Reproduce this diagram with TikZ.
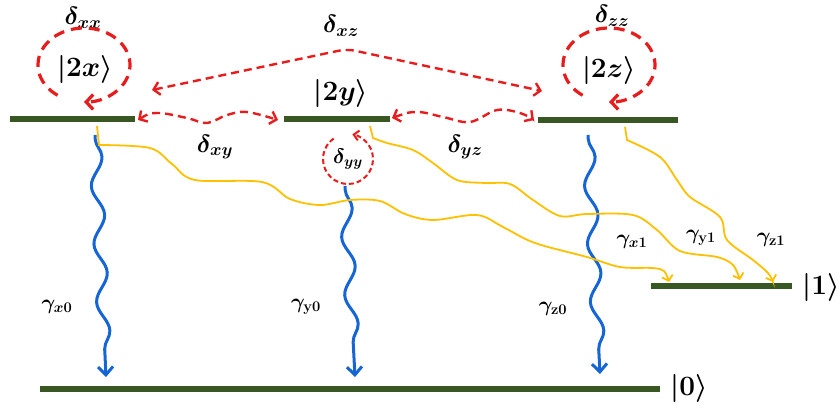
\RequirePackage{fix-cm}
\documentclass[tikz,border=0pt]{standalone}
\usepackage{amsmath}
\usetikzlibrary{arrows.meta,decorations.pathmorphing}
\definecolor{lvlgreen}{RGB}{56,87,35}
\definecolor{dred}{RGB}{232,28,28}
\definecolor{wblue}{RGB}{21,101,212}
\definecolor{wyel}{RGB}{255,192,0}
\begin{document}
\begin{tikzpicture}[x=1pt,y=-1pt,
  lvl/.style={draw=lvlgreen, line width=5.5pt},
  ket/.style={font=\fontsize{28}{32}\selectfont\boldmath, inner sep=0pt},
  dlab/.style={font=\fontsize{25}{29}\selectfont\boldmath, inner sep=0pt},
  glab/.style={font=\fontsize{21}{25}\selectfont\boldmath, inner sep=0pt},
  loopd/.style={draw=dred, line width=3.2pt, dash pattern=on 11pt off 7pt, -{Straight Barb[length=7pt,width=15pt]}},
  loopsm/.style={draw=dred, line width=2pt, dash pattern=on 5pt off 3pt, -{Straight Barb[length=5pt,width=10pt]}},
  cpl/.style={draw=dred, line width=2.4pt, dash pattern=on 8pt off 5pt, {Straight Barb[length=6pt,width=13pt]}-{Straight Barb[length=6pt,width=13pt]}},
  wave/.style={draw=wblue, line width=3pt, decorate, decoration={snake, segment length=58pt, amplitude=6pt, pre length=4pt, post length=22pt}, -{Straight Barb[length=8pt,width=15pt]}},
  yarr/.style={draw=wyel, line width=1.8pt, -{Straight Barb[length=5pt,width=11pt]}}
]
\useasboundingbox (0,0) rectangle (840,407);

% levels
\coordinate (L2xa) at (10,119);  \coordinate (L2xb) at (135,119);
\coordinate (L2ya) at (284,119); \coordinate (L2yb) at (390,119);
\coordinate (L2za) at (538,120); \coordinate (L2zb) at (678,120);
\coordinate (L1a)  at (651,286); \coordinate (L1b)  at (792,286);
\coordinate (L0a)  at (40,389);  \coordinate (L0b)  at (660,389);
\draw[lvl] (L2xa) -- (L2xb);
\draw[lvl] (L2ya) -- (L2yb);
\draw[lvl] (L2za) -- (L2zb);
\draw[lvl] (L1a) -- (L1b);
\draw[lvl] (L0a) -- (L0b);

% state labels
\node[ket] (k2x) at (85,69) {$|2x\rangle$};
\node[ket] (k2y) at (341,93) {$|2y\rangle$};
\node[ket] (k2z) at (609,70) {$|2z\rangle$};
\node[ket] (k1) at (821,287) {$|1\rangle$};
\node[ket] (k0) at (689,388) {$|0\rangle$};

% delta labels
\node[dlab] (dxx) at (83,18) {$\delta_{xx}$};
\node[dlab] (dxz) at (341,26) {$\delta_{xz}$};
\node[dlab] (dzz) at (612,16) {$\delta_{zz}$};
\node[dlab] (dxy) at (215,147) {$\delta_{xy}$};
\node[dlab] (dyz) at (465,147) {$\delta_{yz}$};
\node[font=\fontsize{21}{25}\selectfont\boldmath, inner sep=0pt] (dyy) at (348,159) {$\delta_{yy}$};

% gamma labels
\node[glab] (gx0) at (57,307) {$\gamma_{x0}$};
\node[glab] (gy0) at (306,307) {$\gamma_{\mathrm{y0}}$};
\node[glab] (gz0) at (553,309) {$\gamma_{\mathrm{z0}}$};
\node[glab] (gx1) at (632,242) {$\gamma_{x1}$};
\node[glab] (gy1) at (701,238) {$\gamma_{\mathrm{y1}}$};
\node[glab] (gz1) at (771,240) {$\gamma_{\mathrm{z1}}$};

% self loops
\coordinate (cxx) at (84,65);
\coordinate (czz) at (609,65);
\coordinate (cyy) at (348,159);
\draw[loopd] (cxx) ++(125:46 and 37) arc[start angle=125, end angle=450, x radius=46, y radius=37];
\draw[loopd] (czz) ++(125:46 and 37) arc[start angle=125, end angle=450, x radius=46, y radius=37];
\draw[loopsm] (cyy) ++(235:25) arc[start angle=235, end angle=-80, radius=25];

% couplings
\coordinate (cxyL) at (138,120); \coordinate (cxyR) at (278,120);
\coordinate (cyzL) at (392,118); \coordinate (cyzR) at (534,120);
\coordinate (cxzL) at (152,90);  \coordinate (cxzT) at (347,49); \coordinate (cxzR) at (542,91);
\draw[cpl] plot[smooth, tension=0.6] coordinates {(cxyL) (157,113) (187,118) (207,123) (227,115) (247,112) (cxyR)};
\draw[cpl] plot[smooth, tension=0.6] coordinates {(cyzL) (417,112) (443,117) (470,122) (497,110) (520,113) (cyzR)};
\draw[cpl, rounded corners=8pt] (cxzL) -- (cxzT) -- (cxzR);

% radiative decays to |0>
\coordinate (bxs) at (95,135);  \coordinate (bxe) at (106,377);
\coordinate (bys) at (345,186); \coordinate (bye) at (355,377);
\coordinate (bzs) at (588,135); \coordinate (bze) at (600,374);
\draw[wave] (bxs) -- (bxe);
\draw[wave] (bys) -- (bye);
\draw[wave] (bzs) -- (bze);

% decays to |1>
\coordinate (ysx) at (97,126); \coordinate (yex) at (669,282);
\coordinate (ysy) at (370,126); \coordinate (yey) at (740,280);
\coordinate (ysz) at (625,127); \coordinate (yez) at (773,282);
\draw[yarr] (ysx) -- plot[smooth, tension=0.55] coordinates {(99,145) (150,148) (172,164) (195,180) (262,182) (290,199) (320,205) (350,200) (380,201) (405,214) (433,220) (477,215) (503,227) (535,243) (587,257) (620,267) (652,268) (664,271) (yex)};
\draw[yarr] (ysy) -- plot[smooth, tension=0.55] coordinates {(373,138) (387,143) (413,150) (433,163) (457,180) (485,183) (510,184) (533,200) (560,216) (587,214) (633,215) (657,230) (680,251) (717,257) (733,265) (yey)};
\draw[yarr] (ysz) -- plot[smooth, tension=0.55] coordinates {(627,140) (660,157) (677,180) (690,197) (720,217) (727,240) (753,260) (768,273) (yez)};
\end{tikzpicture}
\end{document}
